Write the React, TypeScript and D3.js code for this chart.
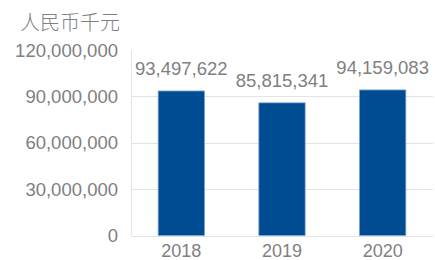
import React, { useEffect, useRef } from 'react';
import * as d3 from 'd3';

const years = ['2018', '2019', '2020'];
const values = [93497622, 85815341, 94159083];
const yTicks = [0, 30000000, 60000000, 90000000, 120000000];
const unitLabel = '人民币千元';

const App = () => {
  const ref = useRef<SVGSVGElement | null>(null);
  const svgWidth = 435;
  const svgHeight = 260;
  const plot = { left: 131, right: 433, top: 50, bottom: 235.5 };

  useEffect(() => {
    const svg = d3.select(ref.current);
    svg.selectAll('*').remove();

    const x = d3.scaleBand<string>()
      .domain(years)
      .range([plot.left, plot.right])
      .paddingInner(0.54)
      .paddingOuter(0.27);

    const y = d3.scaleLinear()
      .domain([0, 120000000])
      .range([plot.bottom, plot.top]);

    const fmt = d3.format(',');
    const textColor = '#808080';
    const font = '"Liberation Sans", Arial, sans-serif';

    // gridlines (no line at the top tick)
    svg.append('g')
      .selectAll('line')
      .data(yTicks.filter(t => t < 120000000))
      .enter()
      .append('line')
      .attr('x1', plot.left)
      .attr('x2', plot.right)
      .attr('y1', d => Math.round(y(d)) + 0.5)
      .attr('y2', d => Math.round(y(d)) + 0.5)
      .attr('stroke', '#e3e3e3')
      .attr('stroke-width', 1);

    // vertical axis line
    svg.append('line')
      .attr('x1', plot.left + 0.5)
      .attr('x2', plot.left + 0.5)
      .attr('y1', plot.top)
      .attr('y2', plot.bottom)
      .attr('stroke', '#e3e3e3');

    // y tick labels
    svg.append('g')
      .selectAll('text')
      .data(yTicks)
      .enter()
      .append('text')
      .attr('x', 118)
      .attr('y', d => y(d))
      .attr('dy', '0.36em')
      .attr('text-anchor', 'end')
      .attr('fill', textColor)
      .style('font-family', font)
      .style('font-size', '18.5px')
      .text(d => fmt(d));

    // bars
    svg.append('g')
      .selectAll('rect')
      .data(values)
      .enter()
      .append('rect')
      .attr('x', (d, i) => x(years[i]) as number)
      .attr('y', d => y(d))
      .attr('width', x.bandwidth())
      .attr('height', d => y(0) - y(d))
      .attr('fill', '#004c93')
      .attr('stroke', '#7aa3d3')
      .attr('stroke-width', 0.8);

    // value labels
    svg.append('g')
      .selectAll('text')
      .data(values)
      .enter()
      .append('text')
      .attr('x', (d, i) => (x(years[i]) as number) + x.bandwidth() / 2)
      .attr('y', d => y(d) - 16)
      .attr('text-anchor', 'middle')
      .attr('fill', textColor)
      .style('font-family', font)
      .style('font-size', '18.5px')
      .text(d => fmt(d));

    // category labels
    svg.append('g')
      .selectAll('text')
      .data(years)
      .enter()
      .append('text')
      .attr('x', d => (x(d) as number) + x.bandwidth() / 2)
      .attr('y', 256.5)
      .attr('text-anchor', 'middle')
      .attr('fill', textColor)
      .style('font-family', font)
      .style('font-size', '18px')
      .text(d => d);

    // unit title
    svg.append('text')
      .attr('x', 20)
      .attr('y', 30)
      .attr('fill', textColor)
      .style('font-family', '"Noto Sans CJK SC", sans-serif')
      .style('font-size', '20px')
      .style('font-weight', 300)
      .text(unitLabel);
  }, []);

  return (
    <svg
      ref={ref}
      width={svgWidth}
      height={svgHeight}
      style={{ position: 'absolute', left: 0, top: 0, background: '#fff' }}
    />
  );
};

export default App;
